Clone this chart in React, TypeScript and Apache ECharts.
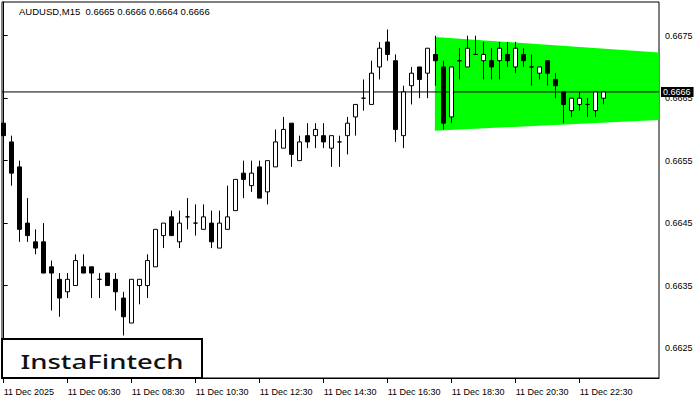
import React, { useEffect, useRef } from "react";
import * as echarts from "echarts";

// ---- data (AUDUSD M15, 11 Dec 2025, candles from 04:30 to 23:15) ----
const opens = [
  0.6661, 0.6658, 0.6654, 0.6645, 0.6642, 0.6642, 0.6638, 0.6636, 0.6634, 0.6635,
  0.6638, 0.6638, 0.6636, 0.6637, 0.6636, 0.6633, 0.6629, 0.6635, 0.6635, 0.6638,
  0.6643, 0.6646, 0.6642, 0.6646, 0.6645, 0.6644, 0.6645, 0.6641, 0.6644, 0.6647,
  0.6653, 0.6651, 0.6654, 0.665, 0.6654, 0.6657, 0.6661, 0.6655, 0.6659, 0.6659,
  0.6659, 0.6657, 0.6658, 0.6659, 0.6662, 0.6665, 0.6664, 0.667, 0.6674, 0.6671,
  0.6659, 0.6667, 0.667, 0.6669, 0.6672, 0.667, 0.6662, 0.6671, 0.667, 0.6672,
  0.6671, 0.6671, 0.6671, 0.6672, 0.667, 0.6672, 0.667, 0.6669, 0.6671, 0.6668,
  0.6666, 0.6663, 0.6664, 0.6664, 0.6663, 0.6665,
];
const closes = [
  0.6659, 0.6653, 0.6644, 0.6643, 0.6641, 0.6637, 0.6637, 0.6633, 0.6636, 0.6639,
  0.6637, 0.6637, 0.6636, 0.6635, 0.6634, 0.663, 0.6636, 0.6636, 0.6639, 0.6644,
  0.6645, 0.6643, 0.6645, 0.6646, 0.6645, 0.6646, 0.6642, 0.6645, 0.6646, 0.6652,
  0.6652, 0.6653, 0.6649, 0.6655, 0.6658, 0.666, 0.6656, 0.6658, 0.6658, 0.666,
  0.6658, 0.6659, 0.6658, 0.6661, 0.6664, 0.6665, 0.6669, 0.6673, 0.6672, 0.666,
  0.6666, 0.6669, 0.6668, 0.6673, 0.6671, 0.6661, 0.667, 0.6671, 0.6673, 0.6672,
  0.6672, 0.667, 0.6673, 0.6671, 0.6673, 0.6671, 0.667, 0.667, 0.6669, 0.6667,
  0.6664, 0.6665, 0.6665, 0.6664, 0.6666, 0.6666,
];
const lows = [
  0.6656, 0.6651, 0.6642, 0.6642, 0.664, 0.6637, 0.6631, 0.663, 0.6633, 0.6635,
  0.6637, 0.6633, 0.6633, 0.6635, 0.6631, 0.6627, 0.6629, 0.6632, 0.6633, 0.6638,
  0.6641, 0.6643, 0.6641, 0.6644, 0.6643, 0.6644, 0.6641, 0.6641, 0.6644, 0.6647,
  0.6649, 0.665, 0.6649, 0.6648, 0.6654, 0.6657, 0.6654, 0.6655, 0.6657, 0.6657,
  0.6657, 0.6654, 0.6654, 0.6656, 0.6659, 0.6663, 0.6664, 0.6668, 0.6671, 0.6658,
  0.6657, 0.6664, 0.6665, 0.6665, 0.6667, 0.666, 0.6661, 0.6668, 0.667, 0.6672,
  0.6668, 0.6668, 0.6668, 0.667, 0.6669, 0.667, 0.6667, 0.6668, 0.6667, 0.6665,
  0.6661, 0.6662, 0.6663, 0.6662, 0.6662, 0.6664,
];
const highs = [
  0.6662, 0.6659, 0.6655, 0.6649, 0.6644, 0.6645, 0.6639, 0.6637, 0.6637, 0.664,
  0.664, 0.6638, 0.6637, 0.6637, 0.6637, 0.6634, 0.6636, 0.6636, 0.664, 0.6644,
  0.6645, 0.6647, 0.6647, 0.6649, 0.6648, 0.6648, 0.6647, 0.6647, 0.6651, 0.6652,
  0.6655, 0.6655, 0.6655, 0.6655, 0.666, 0.6662, 0.6661, 0.6659, 0.6661, 0.6661,
  0.6661, 0.6659, 0.6659, 0.6662, 0.6664, 0.6668, 0.6671, 0.6674, 0.6676, 0.6672,
  0.6667, 0.667, 0.667, 0.6673, 0.6675, 0.6671, 0.667, 0.6673, 0.6675, 0.6675,
  0.6674, 0.6673, 0.6674, 0.6674, 0.6674, 0.6673, 0.6672, 0.667, 0.6671, 0.6669,
  0.6666, 0.6665, 0.6666, 0.6665, 0.6666, 0.6666,
];

const xTickIndex = [0, 8, 16, 24, 32, 40, 48, 56, 64, 72];
const xTickLabels = [
  "11 Dec 2025", "11 Dec 06:30", "11 Dec 08:30", "11 Dec 10:30", "11 Dec 12:30",
  "11 Dec 14:30", "11 Dec 16:30", "11 Dec 18:30", "11 Dec 20:30", "11 Dec 22:30",
];
const yTickValues = [0.6625, 0.6635, 0.6645, 0.6655, 0.6665, 0.6675];

// pennant pattern (left x, right x in bar index; top and bottom prices)
const patternX = [53.9, 81.9];
const patternTop = [0.66748, 0.66723];
const patternBottom = [0.66598, 0.66615];

const lastPrice = 0.6666;
const titleText = "AUDUSD,M15  0.6665 0.6666 0.6664 0.6666";

const X_MIN = -0.2125;
const X_MAX = 81.9125;
const AXIS_FONT = "'Liberation Sans', Arial, sans-serif";

export default function App() {
  const ref = useRef<HTMLDivElement>(null);

  useEffect(() => {
    document.body.style.margin = "0";
    if (!ref.current) return;
    const chart = echarts.init(ref.current, undefined, { renderer: "svg" });

    const candles = opens.map((o, i) => [i, o, closes[i], lows[i], highs[i]]);

    chart.setOption({
      animation: false,
      backgroundColor: "#ffffff",
      title: {
        text: titleText,
        left: 19,
        top: 6,
        padding: 0,
        textStyle: { fontSize: 9.5, fontWeight: "normal", color: "#000", fontFamily: AXIS_FONT },
      },
      grid: {
        left: 2,
        right: 41,
        top: 2,
        bottom: 22,
        show: true,
        borderColor: "#000",
        borderWidth: 1,
        backgroundColor: "transparent",
      },
      xAxis: {
        type: "value",
        min: X_MIN,
        max: X_MAX,
        splitLine: { show: false },
        axisLine: { show: true, lineStyle: { color: "#000", width: 1 } },
        axisTick: {
          show: true,
          customValues: xTickIndex,
          length: 5,
          lineStyle: { color: "#000" },
        },
        axisLabel: {
          customValues: xTickIndex,
          formatter: (v: number) => {
            const k = xTickIndex.indexOf(Math.round(v));
            return k >= 0 ? xTickLabels[k] : "";
          },
          align: "left",
          margin: 9,
          color: "#000",
          fontSize: 9,
          fontFamily: AXIS_FONT,
        },
      },
      yAxis: {
        type: "value",
        position: "right",
        min: 0.66202,
        max: 0.66804,
        splitLine: { show: false },
        axisLine: { show: true, lineStyle: { color: "#000", width: 1 } },
        axisTick: {
          show: true,
          customValues: yTickValues,
          length: 4,
          lineStyle: { color: "#000" },
        },
        axisLabel: {
          customValues: yTickValues,
          formatter: (v: number) => v.toFixed(4),
          margin: 6,
          color: "#000",
          fontSize: 9,
          fontFamily: AXIS_FONT,
        },
      },
      graphic: [
        {
          type: "rect",
          shape: { x: 2, y: 339, width: 200, height: 39 },
          style: { fill: "#fff", stroke: "#000", lineWidth: 2 },
          z: 100,
        },
        {
          type: "text",
          x: 102,
          y: 362,
          scaleX: 1.45,
          style: {
            text: "InstaFintech",
            fill: "#111",
            font: "500 19px 'Noto Sans', sans-serif",
            textAlign: "center",
            textVerticalAlign: "middle",
          },
          z: 101,
        },
      ],
      series: [
        {
          type: "custom",
          coordinateSystem: "cartesian2d",
          silent: true,
          z: 1,
          data: [[patternX[0], patternTop[0]]],
          renderItem: (_params: any, api: any) => {
            const pts = [
              api.coord([patternX[0], patternTop[0]]),
              api.coord([patternX[1], patternTop[1]]),
              api.coord([patternX[1], patternBottom[1]]),
              api.coord([patternX[0], patternBottom[0]]),
            ];
            return { type: "polygon", shape: { points: pts }, style: { fill: "#00ff00" } };
          },
        },
        {
          type: "line",
          silent: true,
          z: 2,
          symbol: "none",
          lineStyle: { color: "#000", width: 1 },
          data: [
            [X_MIN, lastPrice],
            [X_MAX, lastPrice],
          ],
          endLabel: {
            show: true,
            distance: 2,
            formatter: () => lastPrice.toFixed(4),
            backgroundColor: "#000",
            color: "#fff",
            fontSize: 9,
            fontFamily: AXIS_FONT,
            padding: [1, 3, 0, 2],
          },
        },
        {
          type: "candlestick",
          data: candles,
          barWidth: 4,
          clip: false,
          z: 3,
          itemStyle: {
            color: "#ffffff",
            color0: "#000000",
            borderColor: "#000000",
            borderColor0: "#000000",
            borderWidth: 1,
          },
        },
      ],
    });

    return () => chart.dispose();
  }, []);

  return (
    <div
      ref={ref}
      style={{ position: "fixed", left: 0, top: 0, width: 700, height: 400 }}
    />
  );
}
